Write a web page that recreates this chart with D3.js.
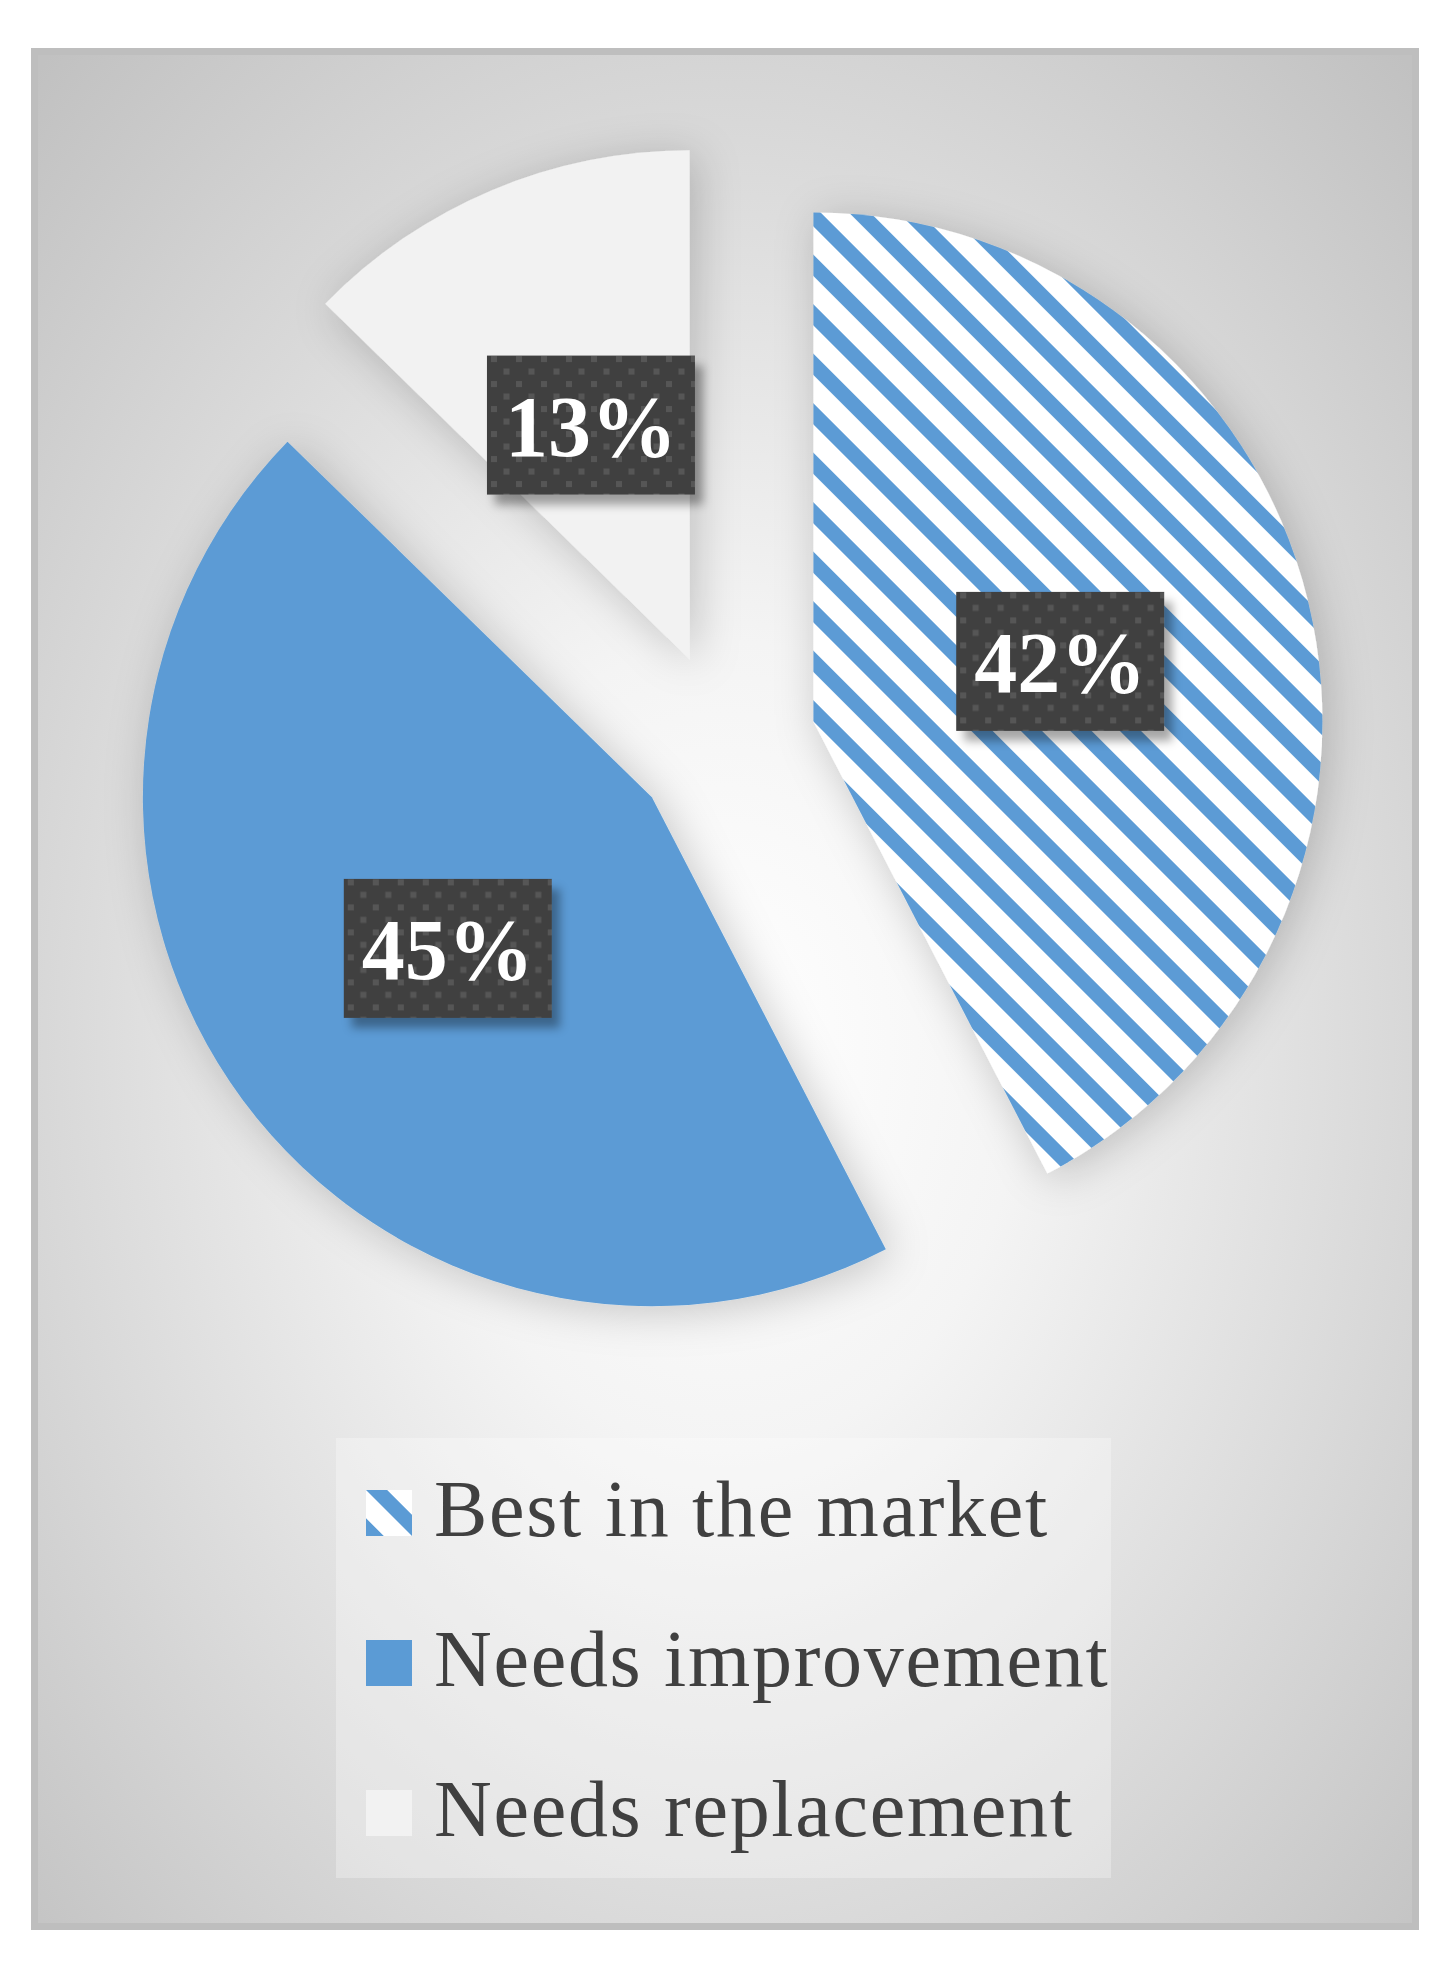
<!DOCTYPE html>
<html>
<head>
<meta charset="utf-8">
<script src="https://cdn.jsdelivr.net/npm/d3@7"></script>
<style>
  body { margin: 0; background: #fff; }
  svg { display: block; }
</style>
</head>
<body>
<div id="chart"></div>
<script>
// Data
const categories = ["Best in the market", "Needs improvement", "Needs replacement"];
const values = [42.4, 44.9, 12.7];
const valueLabels = ["42%", "45%", "13%"];

const W = 1455, H = 1966;
const frame = { x: 31, y: 48, w: 1388, h: 1882 };
const cx = 725, cy = 743, radius = 509, explode = 91, labelR = 345;

const svg = d3.select("#chart")
    .append("svg")
    .attr("width", W)
    .attr("height", H);

const defs = svg.append("defs");

// background gradient
const bg = defs.append("radialGradient")
    .attr("id", "bgGrad")
    .attr("cx", 0.5).attr("cy", 0.53).attr("r", 0.72);
bg.append("stop").attr("offset", 0).attr("stop-color", "#ffffff");
bg.append("stop").attr("offset", 0.3).attr("stop-color", "#f4f4f4");
bg.append("stop").attr("offset", 1).attr("stop-color", "#c1c1c1");

// stripes for "Best in the market"
const stripes = defs.append("pattern")
    .attr("id", "stripes")
    .attr("patternUnits", "userSpaceOnUse")
    .attr("width", 35).attr("height", 35)
    .attr("patternTransform", "rotate(-45)");
stripes.append("rect").attr("width", 35).attr("height", 35).attr("fill", "#ffffff");
stripes.append("rect").attr("width", 15).attr("height", 35).attr("fill", "#5b9bd5");

// dotted label background
const dots = defs.append("pattern")
    .attr("id", "dots")
    .attr("patternUnits", "userSpaceOnUse")
    .attr("width", 25).attr("height", 25);
dots.append("rect").attr("width", 25).attr("height", 25).attr("fill", "#404040");
dots.append("rect").attr("x", 0).attr("y", 6).attr("width", 6).attr("height", 6).attr("fill", "#575757");
dots.append("rect").attr("x", 12.5).attr("y", 18.5).attr("width", 6).attr("height", 6).attr("fill", "#575757");

// soft shadow around the pie
const pieShadow = defs.append("filter").attr("id", "pieShadow")
    .attr("x", "-30%").attr("y", "-30%").attr("width", "160%").attr("height", "160%");
pieShadow.append("feDropShadow")
    .attr("dx", 6).attr("dy", 6).attr("stdDeviation", 22)
    .attr("flood-color", "#000").attr("flood-opacity", 0.2);

const boxShadow = defs.append("filter").attr("id", "boxShadow")
    .attr("x", "-20%").attr("y", "-20%").attr("width", "150%").attr("height", "150%");
boxShadow.append("feDropShadow")
    .attr("dx", 8).attr("dy", 10).attr("stdDeviation", 5)
    .attr("flood-color", "#000").attr("flood-opacity", 0.35);

// frame
svg.append("rect")
    .attr("x", frame.x + 3.5).attr("y", frame.y + 3.5)
    .attr("width", frame.w - 7).attr("height", frame.h - 7)
    .attr("fill", "url(#bgGrad)")
    .attr("stroke", "#bebebe")
    .attr("stroke-width", 7);

const fills = ["url(#stripes)", "#5b9bd5", "#f2f2f2"];

const pie = d3.pie().sort(null).value(d => d);
const arcs = pie(values);
const arc = d3.arc().innerRadius(0).outerRadius(radius);

const dir = a => [Math.sin(a), -Math.cos(a)];

const slices = svg.append("g").attr("filter", "url(#pieShadow)");
slices.selectAll("path")
    .data(arcs)
    .enter()
    .append("path")
    .attr("d", arc)
    .attr("fill", (d, i) => fills[i])
    .attr("transform", d => {
        const [ux, uy] = dir((d.startAngle + d.endAngle) / 2);
        return `translate(${cx + ux * explode},${cy + uy * explode})`;
    });

// data labels
const bw = 208, bh = 139;
const lab = svg.selectAll(".lab")
    .data(arcs)
    .enter()
    .append("g")
    .attr("class", "lab")
    .attr("transform", d => {
        const [ux, uy] = dir((d.startAngle + d.endAngle) / 2);
        return `translate(${cx + ux * labelR},${cy + uy * labelR})`;
    });

lab.append("rect")
    .attr("x", -bw / 2).attr("y", -bh / 2)
    .attr("width", bw).attr("height", bh)
    .attr("fill", "url(#dots)")
    .attr("filter", "url(#boxShadow)");

lab.append("text")
    .attr("text-anchor", "middle")
    .attr("y", 31)
    .attr("font-family", "'Liberation Serif', serif")
    .attr("font-weight", "bold")
    .attr("font-size", 86)
    .attr("fill", "#fff")
    .text((d, i) => valueLabels[i]);

// legend
svg.append("rect")
    .attr("x", 336).attr("y", 1438)
    .attr("width", 775).attr("height", 440)
    .attr("fill", "#fff").attr("fill-opacity", 0.3);

const legend = svg.selectAll(".leg")
    .data(categories)
    .enter()
    .append("g")
    .attr("class", "leg")
    .attr("transform", (d, i) => `translate(366,${1490 + i * 150})`);

legend.append("rect")
    .attr("width", 46).attr("height", 46)
    .attr("fill", (d, i) => fills[i]);

legend.append("text")
    .attr("x", 68).attr("y", 46)
    .attr("font-family", "'Liberation Serif', serif")
    .attr("font-size", 80)
    .attr("letter-spacing", 1.7)
    .attr("fill", "#404040")
    .text(d => d);
</script>
</body>
</html>
